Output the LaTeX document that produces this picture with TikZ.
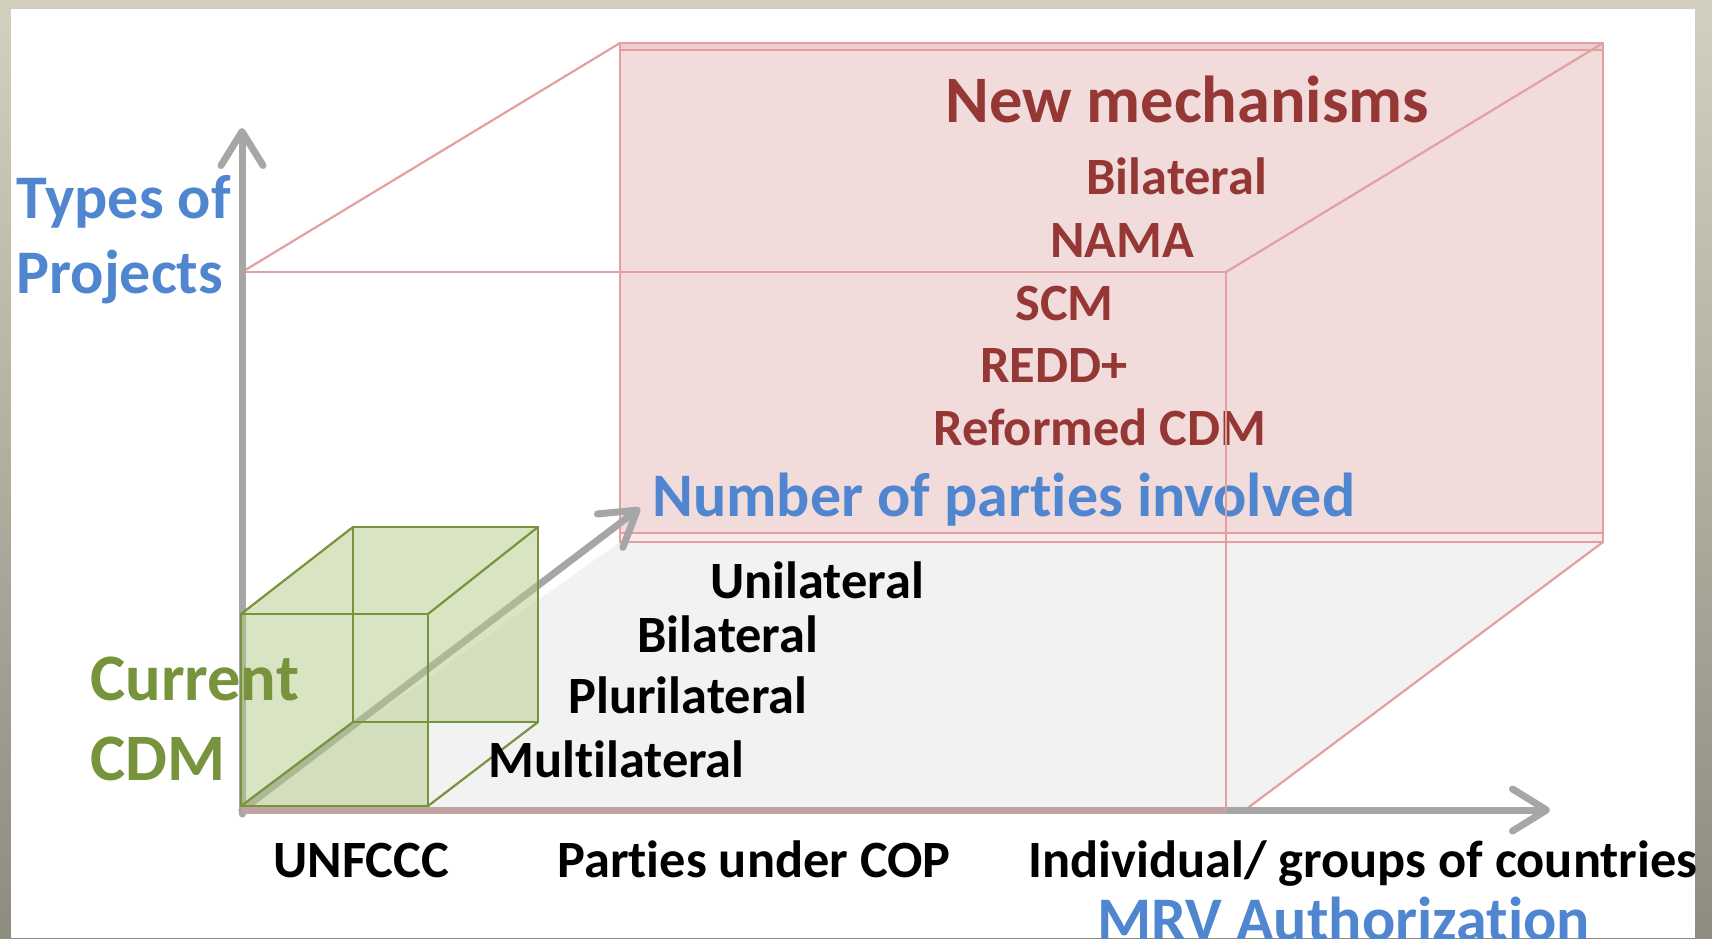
\documentclass[tikz,border=0pt]{standalone}
\usepackage{fontspec}
\setmainfont{Carlito}[Ligatures={NoCommon,NoContextual}]
\usetikzlibrary{arrows.meta}

\definecolor{frameTop}{HTML}{D4D0C0}
\definecolor{frameBot}{HTML}{8E8B7F}
\definecolor{axisGray}{HTML}{A6A6A6}
\definecolor{floorGray}{HTML}{F2F2F2}
\definecolor{boxFill}{HTML}{F2DCDB}
\definecolor{boxBandTop}{HTML}{EDCDCD}
\definecolor{boxBandBot}{HTML}{F7E9E9}
\definecolor{boxLine}{HTML}{E3A0A0}
\definecolor{mechRed}{HTML}{953735}
\definecolor{axisBlue}{HTML}{4F86CF}
\definecolor{cdmGreen}{HTML}{77933C}
\definecolor{cubeFill}{HTML}{B5CB87}

\begin{document}
\begin{tikzpicture}[x=0.5pt,y=-0.5pt,
  axisline/.style={draw=axisGray, line width=3.5pt, line cap=round,
    -{Straight Barb[length=17pt,width=21pt,round]}},
  boxedge/.style={draw=boxLine, line width=1.1pt},
  cubeedge/.style={draw=cdmGreen, line width=1.1pt},
  txt/.style={inner sep=0pt, anchor=base west, font=\bfseries\fontsize{26.2}{26.2}\selectfont},
  bigtxt/.style={inner sep=0pt, anchor=base west, font=\bfseries\fontsize{31}{31}\selectfont},
  hugetxt/.style={inner sep=0pt, anchor=base west, font=\bfseries\fontsize{33.2}{33.2}\selectfont},
]
\useasboundingbox (0,0) rectangle (1712,938);

% slide frame and white panel
\shade[top color=frameTop, bottom color=frameBot] (0,0) rectangle (1712,938);
\fill[white] (11,9) rectangle (1695,938);

% named corners
\coordinate (O) at (242,810);
\coordinate (O0) at (242,814);
\coordinate (Ytip) at (242,128);
\coordinate (Xtip) at (1550,810);
\coordinate (Ztip) at (640,508);
\coordinate (F1) at (242,272);
\coordinate (F2) at (1226,272);
\coordinate (F3) at (1226,810);
\coordinate (B1) at (620,43);
\coordinate (B2) at (1603,43);
\coordinate (B3) at (1603,542);
\coordinate (B4) at (620,542);
\coordinate (Fl) at (1245,810);

% floor of the large box
\fill[floorGray] (O) -- (B4) -- (B3) -- (Fl) -- cycle;

% back face of the large box
\fill[boxFill] (B1) rectangle (B3);
\fill[boxBandTop] (620,43) rectangle (1603,50);
\fill[boxBandBot] (620,533) rectangle (1603,542);
\draw[boxedge] (B1) rectangle (B3);
\draw[boxedge, line width=0.7pt] (620,50) -- (1603,50);
\draw[boxedge, line width=0.7pt] (620,533) -- (1603,533);

% remaining edges of the large box
\draw[boxedge] (F1) -- (B1);
\draw[boxedge] (F2) -- (B2);
\draw[boxedge] (B3) -- (Fl);
\draw[boxedge] (F1) -- (F2);

% axes
\draw[axisline] (O0) -- (Ytip);
\draw[axisline] (O) -- (Xtip);
\draw[axisline] (O) -- (Ztip);
\draw[draw=boxLine, line width=3.5pt, opacity=0.45] (O) -- (F3);

% small cube: current CDM
\fill[cubeFill, fill opacity=0.5] (241,806) -- (241,614) -- (353,527) -- (538,527) -- (538,722) -- (428,722) -- (428,806) -- cycle;
\draw[cubeedge] (241,614) rectangle (428,806);
\draw[cubeedge] (353,527) rectangle (538,722);
\draw[cubeedge] (241,614) -- (353,527);
\draw[cubeedge] (428,614) -- (538,527);
\draw[cubeedge] (428,806) -- (538,722);
\draw[cubeedge] (241,806) -- (353,722);

% axis titles
\node[bigtxt, text=axisBlue] (types) at (16,218) {Types of};
\node[bigtxt, text=axisBlue] (proj) at (16,293) {Projects};
\node[bigtxt, text=axisBlue] (npar) at (652,516) {Number of parties involved};
\node[bigtxt, text=axisBlue] (mrv) at (1097,940) {MRV Authorization};

% current CDM label
\node[hugetxt, text=cdmGreen] (cur) at (90,700) {Current};
\node[hugetxt, text=cdmGreen] (cdm) at (90,780) {CDM};

% new mechanisms
\node[hugetxt, text=mechRed] (newm) at (945,122) {New mechanisms};
\node[txt, text=mechRed] (mbil) at (1086,194) {Bilateral};
\node[txt, text=mechRed] (nama) at (1050,257) {NAMA};
\node[txt, text=mechRed] (scm) at (1015,320) {SCM};
\node[txt, text=mechRed] (redd) at (980,382) {REDD+};
\node[txt, text=mechRed] (refo) at (933,445) {Reformed CDM};

% number of parties
\node[txt] (uni) at (710,598) {Unilateral};
\node[txt] (bil) at (637,652) {Bilateral};
\node[txt] (plu) at (568,713) {Plurilateral};
\node[txt] (mul) at (488,777) {Multilateral};

% MRV authorization levels
\node[txt] (unf) at (273,877) {UNFCCC};
\node[txt] (cop) at (557,877) {Parties under COP};
\node[txt] (ind) at (1028,877) {Individual/ groups of countries};

% front right edge of the large box
\draw[boxedge] (F2) -- (F3);
\end{tikzpicture}
\end{document}
